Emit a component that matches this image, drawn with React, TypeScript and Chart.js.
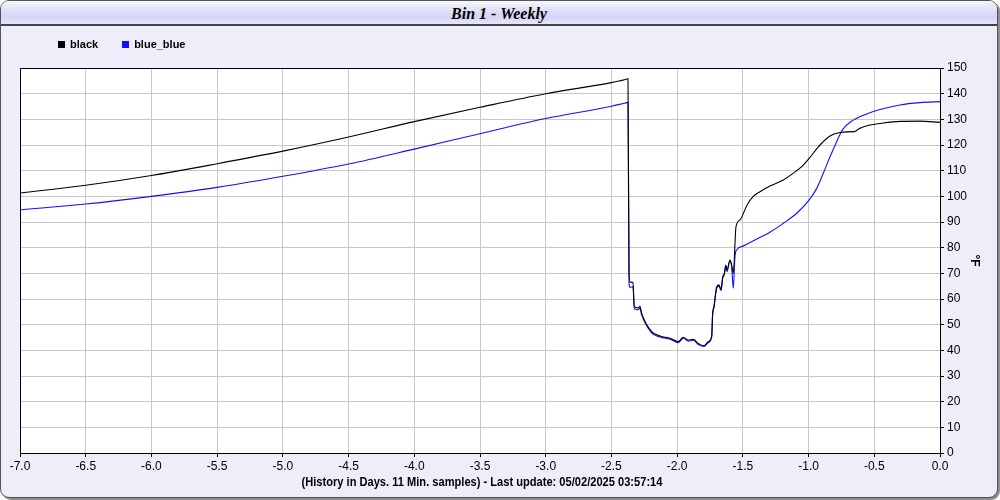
import React, { useEffect, useRef } from "react";
import { Chart, registerables } from "chart.js";

Chart.register(...registerables);

const chartTitle = "Bin 1 - Weekly";
const footerText = "(History in Days. 11 Min. samples) - Last update: 05/02/2025 03:57:14";
const yAxisTitle = "°F";
const seriesNames = ["black", "blue_blue"];
const seriesColors = ["#000000", "#1010ff"];

const blackDays = [-7, -6.5, -6, -5.5, -5, -4.5, -4, -3.5, -3, -2.5, -2.40,
  -2.374, -2.366, -2.359, -2.336, -2.326, -2.296, -2.283, -2.270,
  -2.194, -2.130, -2.054, -1.991, -1.953, -1.915, -1.877, -1.839,
  -1.796, -1.763, -1.737, -1.730, -1.720, -1.699, -1.682, -1.666,
  -1.653, -1.641, -1.630, -1.621, -1.598, -1.585, -1.573, -1.552,
  -1.522, -1.468, -1.423, -1.370, -1.294, -1.192, -1.090, -1.040,
  -0.989, -0.913, -0.837, -0.761, -0.660, -0.647, -0.609, -0.533,
  -0.457, -0.304, -0.152, 0];
const blackTemps = [101.3, 104.3, 108.1, 112.7, 117.6, 123.1, 129.1, 134.7, 140.0, 144.3, 145.4,
  145.8, 70.0, 66.6, 66.4, 57.0, 56.5, 57.2, 54.4,
  47.3, 45.6, 44.7, 43.4, 45.1, 44.0, 44.3, 42.7,
  41.8, 43.4, 45.6, 54.4, 57.0, 64.8, 65.5, 63.8,
  68.7, 70.0, 73.2, 71.3, 75.2, 73.2, 70.0, 88.2,
  90.8, 96.6, 99.9, 101.8, 104.0, 106.4, 110.0, 112.2,
  115.2, 120.0, 123.5, 124.9, 125.2, 125.3, 126.5, 127.8,
  128.4, 129.2, 129.3, 128.8];

const blueDays = [-7, -6.5, -6, -5.5, -5, -4.5, -4, -3.5, -3, -2.5, -2.40,
  -2.374, -2.366, -2.359, -2.336, -2.326, -2.296, -2.283, -2.270,
  -2.194, -2.130, -2.054, -1.991, -1.953, -1.915, -1.877, -1.839,
  -1.796, -1.763, -1.737, -1.730, -1.720, -1.699, -1.682, -1.666,
  -1.653, -1.641, -1.630, -1.621, -1.598, -1.585, -1.573, -1.560,
  -1.547, -1.498, -1.423, -1.294, -1.192, -1.090, -0.995, -0.938,
  -0.888, -0.837, -0.786, -0.741, -0.660, -0.558, -0.457, -0.304,
  -0.152, 0];
const blueTemps = [94.7, 97.0, 100.0, 103.5, 107.8, 112.6, 118.4, 124.4, 130.3, 135.1, 136.3,
  136.6, 66.0, 64.5, 64.8, 56.2, 55.8, 56.5, 53.8,
  46.8, 45.2, 44.3, 43.0, 44.7, 43.6, 43.9, 42.3,
  41.5, 43.0, 45.2, 54.0, 56.6, 64.3, 65.0, 63.3,
  68.2, 69.5, 72.8, 70.6, 74.8, 72.5, 64.2, 76.5,
  79.1, 80.6, 82.6, 86.0, 89.5, 93.4, 98.6, 103.1,
  109.0, 115.4, 121.3, 126.0, 129.7, 132.1, 133.8, 135.6,
  136.5, 136.9];

const xMin = -7, xMax = 0, xStep = 0.5;
const yMin = 0, yMax = 150, yStep = 10;

const toPoints = (xs: number[], ys: number[]) => xs.map((x, i) => ({ x, y: ys[i] }));

const plotFrame = {
  id: "plotFrame",
  beforeDraw(chart: any) {
    const { ctx, chartArea: a } = chart;
    ctx.save();
    ctx.fillStyle = "#ffffff";
    ctx.fillRect(a.left, a.top, a.right - a.left, a.bottom - a.top);
    ctx.restore();
  },
  afterDraw(chart: any) {
    const { ctx, chartArea: a } = chart;
    ctx.save();
    ctx.strokeStyle = "#000";
    ctx.lineWidth = 1;
    ctx.beginPath();
    ctx.moveTo(a.left + 0.5, a.bottom);
    ctx.lineTo(a.left + 0.5, a.top + 0.5);
    ctx.lineTo(a.right, a.top + 0.5);
    ctx.stroke();
    ctx.restore();
  },
};

const FONT = "'Liberation Sans', Arial, sans-serif";

export default function App() {
  const ref = useRef<HTMLCanvasElement | null>(null);
  useEffect(() => {
    if (!ref.current) return;
    const lineStyle = { borderWidth: 1.1, pointRadius: 0, cubicInterpolationMode: "monotone" };
    const chart = new Chart(ref.current, {
      type: "line",
      data: {
        datasets: [
          { label: seriesNames[0], data: toPoints(blackDays, blackTemps), borderColor: seriesColors[0], backgroundColor: seriesColors[0], ...lineStyle },
          { label: seriesNames[1], data: toPoints(blueDays, blueTemps), borderColor: seriesColors[1], backgroundColor: seriesColors[1], ...lineStyle },
        ],
      },
      options: {
        animation: false,
        responsive: false,
        devicePixelRatio: 1,
        layout: { padding: { left: 20, top: 68, right: 14, bottom: 22 } },
        plugins: { legend: { display: false }, tooltip: { enabled: false } },
        scales: {
          x: {
            type: "linear",
            min: xMin, max: xMax,
            afterFit: (s: any) => { s.height = 25; },
            ticks: {
              stepSize: xStep,
              color: "#000",
              padding: 2,
              maxRotation: 0,
              font: { family: FONT, size: 12 },
              callback: (v: any) => Number(v).toFixed(1),
            },
            grid: { color: "#c8c8c8", lineWidth: 1, tickLength: 4, tickColor: "#000" },
            border: { color: "#000", width: 1 },
          },
          y: {
            type: "linear",
            position: "right",
            min: yMin, max: yMax,
            afterFit: (s: any) => { s.width = 46; },
            ticks: {
              stepSize: yStep,
              color: "#000",
              padding: 3,
              font: { family: FONT, size: 12 },
            },
            title: {
              display: true,
              text: yAxisTitle,
              color: "#000",
              padding: 4,
              font: { family: FONT, size: 12, weight: "bold" },
            },
            grid: { color: "#c8c8c8", lineWidth: 1, tickLength: 4, tickColor: "#000" },
            border: { color: "#000", width: 1 },
          },
        },
      } as any,
      plugins: [plotFrame],
    });
    return () => chart.destroy();
  }, []);

  return (
    <div style={{ position: "fixed", left: 0, top: 0, width: 1000, height: 500, fontFamily: FONT }}>
      <div style={{ position: "absolute", left: 0, top: 0, width: 996, height: 496, border: "1px solid #555", borderRadius: 9, background: "#eeeefa", boxShadow: "2px 2px 1px #888", overflow: "hidden" }}>
        <div style={{ height: 23, borderBottom: "2px solid #444", background: "linear-gradient(to bottom, #f6f6fe 0%, #e2e2f8 35%, #d4d4f6 70%, #e6e6fa 100%)", textAlign: "center", lineHeight: "25px", fontFamily: "'Liberation Serif', 'Times New Roman', serif", fontWeight: "bold", fontStyle: "italic", fontSize: 16, color: "#000" }}>
          {chartTitle}
        </div>
      </div>
      <div style={{ position: "absolute", left: 58, top: 37, height: 14, fontSize: 11, fontWeight: "bold", color: "#000", display: "flex", alignItems: "center", whiteSpace: "nowrap" }}>
        {seriesNames.map((n, i) => (
          <span key={n} style={{ display: "inline-flex", alignItems: "center", marginRight: i === 0 ? 24 : 0 }}>
            <span style={{ display: "inline-block", width: 7, height: 7, background: seriesColors[i], marginRight: 5 }} />
            {n}
          </span>
        ))}
      </div>
      <div style={{ position: "absolute", left: 0, width: 964, top: 475, textAlign: "center", fontSize: 12, fontWeight: "bold", color: "#000", whiteSpace: "nowrap", transform: "scaleX(0.925)", transformOrigin: "482px 50%" }}>
        {footerText}
      </div>
      <canvas ref={ref} width={1000} height={500} style={{ position: "absolute", left: 0, top: 0, width: 1000, height: 500 }} />
    </div>
  );
}
